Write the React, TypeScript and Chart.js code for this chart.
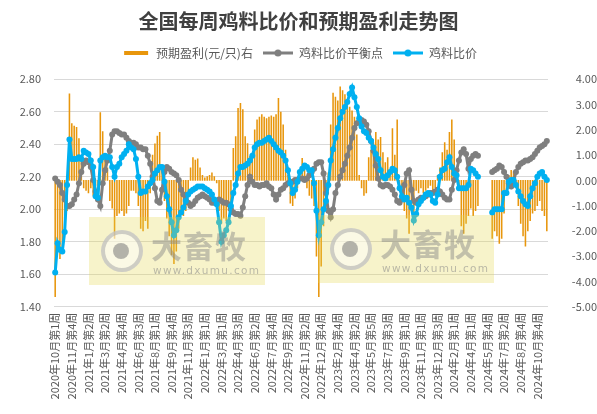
import React, { useEffect, useRef } from 'react';
import { Chart, registerables } from 'chart.js';

Chart.register(...registerables);

const TITLE = '全国每周鸡料比价和预期盈利走势图';
const SERIES_NAMES = ['预期盈利(元/只)右', '鸡料比价平衡点', '鸡料比价'];
const COLORS = ['#E8960C', '#7F7F7F', '#00B0F0'];
const TICK_EVERY = 7;

const TICK_LABELS = [
  '2020年10月第1周', '2020年11月第4周', '2021年1月第2周', '2021年3月第2周', '2021年4月第4周',
  '2021年6月第3周', '2021年8月第1周', '2021年9月第4周', '2021年11月第3周', '2022年1月第1周',
  '2022年3月第1周', '2022年4月第3周', '2022年6月第2周', '2022年7月第4周', '2022年9月第2周',
  '2022年11月第2周', '2022年12月第4周', '2023年2月第4周', '2023年4月第2周', '2023年5月第5周',
  '2023年7月第3周', '2023年9月第1周', '2023年11月第1周', '2023年12月第3周', '2024年2月第1周',
  '2024年4月第1周', '2024年5月第4周', '2024年7月第2周', '2024年8月第4周', '2024年10月第4周',
];

// 预期盈利(元/只) — right axis
const PROFIT = [
  -4.6, -2.6, -3.1, -2.8, -1.5, -1.2, 3.42, 2.25, 2.15, 2.1,
  1.65, 0.9, -0.3, -0.4, -0.5, -0.3, -0.6, -0.2, -0.3, 2.68,
  1.93, 1.0, 0.5, -0.8, -1.1, -2.3, -1.4, -1.3, -1.2, -1.4,
  -1.3, -1.0, -0.4, -0.4, -0.5, -1.0, -1.9, -2.0, -1.6, -1.9,
  -0.5, 1.0, 1.45, 1.75, 1.9, 0.4, -0.8, -1.5, -2.2, -2.95,
  -3.3, -2.8, -1.9, -1.3, -1.4, -1.2, -0.5, 0.5, 0.9, 0.8,
  0.85, 0.5, 0.2, 0.1, 0.15, 0.2, 0.3, 0.15, -0.1, -1.2,
  -1.7, -1.5, -1.6, -1.2, -0.9, 1.27, 1.73, 2.85, 3.05, 2.8,
  1.73, 1.46, 0.95, 0.9, 2.0, 2.4, 2.5, 2.6, 2.5, 2.45,
  2.5, 2.55, 2.5, 2.6, 3.25, 2.7, 2.2, 1.2, 0.2, -0.9,
  -1.0, -0.7, -0.3, 0.3, 0.87, 0.4, -0.3, -0.6, -0.7, -1.0,
  -3.0, -4.6, -3.4, -1.8, -1.2, 0.3, 2.2, 3.45, 3.3, 3.15,
  3.7, 3.55, 3.4, 3.1, 2.9, 2.75, 2.5, 1.8, 0.2, -0.3,
  -0.6, -0.5, 0.9, 1.2, 1.5, 1.9, 1.6, 1.7, 1.1, 0.7,
  0.9, 0.4, 2.05, 1.0, 2.4, -0.3, -0.8, -1.2, -1.5, -2.1,
  -1.2, -1.3, -0.4, -0.5, -0.3, -0.5, -0.4, -0.3, -0.2, -0.4,
  -0.3, 0.2, 0.5, 1.1, 1.5, 1.2, 1.9, 2.4, 1.6, 0.3,
  -0.2, -1.8, -2.1, -1.7, -1.4, -1.1, -1.4, -1.2, -1.0, null,
  null, null, null, null, -2.3, -2.0, -2.2, -2.5, -2.3, -1.3,
  -0.6, 0.2, 0.4, 0.35, -0.3, -1.0, -1.7, -2.2, -2.6, -2.0,
  -1.6, -1.3, -1.2, -1.0, -0.8, -1.2, -1.4, -2.0,
];

// 鸡料比价平衡点 — left axis
const BALANCE = [
  2.19, 2.17, 2.15, 2.10, 2.06, 2.02, 2.02, 2.03, 2.06, 2.09,
  2.16, 2.23, 2.28, 2.30, 2.29, 2.26, 2.18, 2.11, 2.06, 2.02,
  2.16, 2.24, 2.30, 2.36, 2.46, 2.48, 2.48, 2.47, 2.46, 2.46,
  2.44, 2.42, 2.41, 2.41, 2.40, 2.38, 2.38, 2.37, 2.37, 2.33,
  2.28, 2.20, 2.13, 2.05, 2.04, 2.12, 2.23, 2.26, 2.25, 2.23,
  2.22, 2.21, 2.18, 2.12, 2.09, 2.06, 2.04, 2.02, 2.03, 2.05,
  2.07, 2.08, 2.09, 2.08, 2.07, 2.06, 2.04, 2.04, 2.05, 2.06,
  2.05, 2.04, 2.04, 2.03, 2.00, 1.98, 1.97, 1.97, 1.96, 2.01,
  2.08, 2.15, 2.20, 2.17, 2.15, 2.15, 2.14, 2.15, 2.15, 2.16,
  2.14, 2.13, 2.09, 2.06, 2.09, 2.12, 2.13, 2.15, 2.16, 2.17,
  2.17, 2.18, 2.18, 2.19, 2.19, 2.18, 2.19, 2.21, 2.23, 2.25,
  2.28, 2.29, 2.29, 2.22, 2.10, 1.99, 1.95, 2.00, 2.10, 2.15,
  2.20, 2.24, 2.28, 2.33, 2.38, 2.44, 2.50, 2.53, 2.54, 2.55,
  2.54, 2.52, 2.48, 2.42, 2.36, 2.27, 2.19, 2.15, 2.14, 2.15,
  2.15, 2.14, 2.12, 2.09, 2.05, 2.04, 2.06, 2.15, 2.22, 2.24,
  2.12, 2.05, 2.04, 2.06, 2.07, 2.07, 2.08, 2.09, 2.10, 2.10,
  2.11, 2.12, 2.11, 2.09, 2.07, 2.06, 2.06, 2.12, 2.18, 2.24,
  2.30, 2.35, 2.37, 2.34, 2.25, 2.31, 2.33, 2.34, 2.33, null,
  null, null, null, null, 2.23, 2.24, 2.25, 2.27, 2.26, 2.23,
  2.20, 2.16, 2.14, 2.17, 2.23, 2.26, 2.28, 2.29, 2.30, 2.30,
  2.31, 2.32, 2.34, 2.36, 2.38, 2.39, 2.40, 2.42,
];

// 鸡料比价 — left axis
const RATIO = [
  1.61, 1.79, 1.75, 1.74, 1.86, 2.15, 2.43, 2.31, 2.31, 2.31,
  2.32, 2.31, 2.36, 2.35, 2.34, 2.30, 2.26, 2.08, 2.07, 2.30,
  2.32, 2.33, 2.32, 2.32, 2.26, 2.20, 2.26, 2.28, 2.32, 2.34,
  2.36, 2.40, 2.38, 2.37, 2.31, 2.20, 2.10, 2.11, 2.11, 2.14,
  2.16, 2.18, 2.22, 2.24, 2.26, 2.26, 2.17, 2.08, 2.00, 1.92,
  1.84, 1.87, 1.95, 1.98, 2.01, 2.05, 2.09, 2.11, 2.12, 2.13,
  2.14, 2.14, 2.14, 2.13, 2.12, 2.11, 2.09, 2.06, 2.03, 1.92,
  1.80, 1.84, 1.87, 1.92, 2.02, 2.10, 2.15, 2.22, 2.26, 2.26,
  2.27, 2.28, 2.30, 2.33, 2.38, 2.40, 2.41, 2.41, 2.42, 2.43,
  2.44, 2.42, 2.40, 2.38, 2.36, 2.35, 2.33, 2.30, 2.24, 2.16,
  2.10, 2.12, 2.17, 2.23, 2.25, 2.27, 2.26, 2.24, 2.24, 2.16,
  1.99, 1.84, 1.92, 2.00, 2.05, 2.15, 2.30, 2.37, 2.44, 2.50,
  2.56, 2.60, 2.63, 2.66, 2.71, 2.75, 2.69, 2.63, 2.56, 2.51,
  2.48, 2.47, 2.44, 2.42, 2.38, 2.34, 2.31, 2.24, 2.20, 2.19,
  2.21, 2.23, 2.25, 2.24, 2.20, 2.13, 2.08, 2.06, 2.07, 2.04,
  2.01, 1.93, 1.97, 2.03, 2.05, 2.07, 2.09, 2.10, 2.09, 2.05,
  2.04, 2.09, 2.20, 2.24, 2.25, 2.29, 2.32, 2.26, 2.22, 2.21,
  2.13, 2.13, 2.13, 2.13, 2.15, 2.25, 2.24, 2.22, 2.20, null,
  null, null, null, null, 1.98, 2.00, 2.00, 2.00, 2.00, 2.10,
  2.10, 2.17, 2.18, 2.18, 2.15, 2.11, 2.08, 2.05, 2.03, 2.02,
  2.08, 2.13, 2.16, 2.20, 2.22, 2.23, 2.20, 2.18,
];

const FONT = '"Noto Sans CJK SC", "Noto Sans", sans-serif';
const TEXT = '#595959';

function makeSwatch(kind: 'bar' | 'line', color: string) {
  const c = document.createElement('canvas');
  c.width = 30;
  c.height = 10;
  const g = c.getContext('2d')!;
  if (kind === 'bar') {
    g.fillStyle = color;
    g.fillRect(4, 3, 24, 4);
  } else {
    g.strokeStyle = color;
    g.lineWidth = 3;
    g.beginPath();
    g.moveTo(0, 5);
    g.lineTo(30, 5);
    g.stroke();
    g.fillStyle = color;
    g.beginPath();
    g.arc(15, 5, 3.5, 0, Math.PI * 2);
    g.fill();
  }
  return c;
}

function Watermark({ left, top }: { left: number; top: number }) {
  return (
    <div
      style={{
        position: 'absolute', left, top, width: 176, height: 68,
        background: 'rgba(230,215,80,0.3)', pointerEvents: 'none',
      }}
    >
      <div
        style={{
          position: 'absolute', left: 12, top: 13, width: 34, height: 34, borderRadius: '50%',
          border: '4px solid rgba(170,170,170,0.55)', background: 'rgba(255,255,255,0.5)',
        }}
      >
        <div
          style={{
            position: 'absolute', left: 8, top: 9, width: 16, height: 16, borderRadius: '50%',
            background: 'rgba(120,120,120,0.55)',
          }}
        />
      </div>
      <div
        style={{
          position: 'absolute', left: 62, top: 10, fontSize: 31, fontWeight: 700, lineHeight: '36px',
          color: 'rgba(135,135,135,0.48)', fontFamily: FONT, letterSpacing: 1, whiteSpace: 'nowrap',
        }}
      >
        大畜牧
      </div>
      <div
        style={{
          position: 'absolute', left: 64, top: 47, fontSize: 10.5, lineHeight: '12px',
          color: 'rgba(135,135,135,0.55)', fontFamily: '"DejaVu Sans", sans-serif', letterSpacing: 1.3,
          whiteSpace: 'nowrap',
        }}
      >
        www.dxumu.com
      </div>
    </div>
  );
}

export default function App() {
  const ref = useRef<HTMLCanvasElement>(null);

  useEffect(() => {
    const labels = RATIO.map((_, i) => (i % TICK_EVERY === 0 ? TICK_LABELS[i / TICK_EVERY] ?? '' : ''));
    const swatches = [
      makeSwatch('bar', COLORS[0]),
      makeSwatch('line', COLORS[1]),
      makeSwatch('line', COLORS[2]),
    ];
    const chart = new Chart(ref.current!, {
      data: {
        labels,
        datasets: [
          {
            type: 'bar',
            label: SERIES_NAMES[0],
            data: PROFIT,
            yAxisID: 'y1',
            backgroundColor: COLORS[0],
            barThickness: 0.9,
            order: 3,
          },
          {
            type: 'line',
            label: SERIES_NAMES[1],
            data: BALANCE,
            yAxisID: 'y',
            borderColor: COLORS[1],
            backgroundColor: COLORS[1],
            borderWidth: 3,
            pointRadius: 3,
            pointBorderWidth: 0,
            pointBackgroundColor: COLORS[1],
            spanGaps: false,
            tension: 0,
            order: 2,
          },
          {
            type: 'line',
            label: SERIES_NAMES[2],
            data: RATIO,
            yAxisID: 'y',
            borderColor: COLORS[2],
            backgroundColor: COLORS[2],
            borderWidth: 3,
            pointRadius: 3,
            pointBorderWidth: 0,
            pointBackgroundColor: COLORS[2],
            spanGaps: false,
            tension: 0,
            order: 1,
          },
        ],
      } as any,
      options: {
        animation: false,
        responsive: true,
        maintainAspectRatio: false,
        events: [],
        layout: { padding: 0 },
        plugins: {
          title: {
            display: true,
            text: TITLE,
            color: '#404040',
            font: { family: FONT, size: 20, weight: 'bold', lineHeight: 1.2 },
            padding: { top: 9, bottom: 4 },
          },
          subtitle: {
            display: true,
            text: ' ',
            weight: 500,
            font: { size: 10, lineHeight: 1 },
            padding: { top: 0, bottom: 0.3 },
          } as any,
          legend: {
            display: true,
            position: 'top',
            labels: {
              usePointStyle: true,
              pointStyleWidth: 30,
              padding: 10,
              color: TEXT,
              font: { family: FONT, size: 12 },
              generateLabels: (c: any) =>
                c.data.datasets.map((ds: any, i: number) => ({
                  text: ds.label,
                  pointStyle: swatches[i],
                  fillStyle: 'rgba(0,0,0,0)',
                  strokeStyle: 'rgba(0,0,0,0)',
                  lineWidth: 0,
                  hidden: false,
                  datasetIndex: i,
                  fontColor: TEXT,
                })),
            },
          },
          tooltip: { enabled: false },
        },
        scales: {
          x: {
            type: 'category',
            offset: true,
            grid: { display: false, drawTicks: false },
            border: { display: false },
            ticks: {
              autoSkip: false,
              minRotation: 90,
              maxRotation: 90,
              padding: 6,
              color: TEXT,
              font: { family: FONT, size: 11 },
              callback: (_v: any, i: number) => labels[i],
            },
            afterFit: (s: any) => {
              s.height = 107.3;
            },
          },
          y: {
            type: 'linear',
            position: 'left',
            min: 1.4,
            max: 2.8,
            grid: { color: '#D9D9D9', lineWidth: 1, drawTicks: false },
            border: { display: false },
            ticks: {
              stepSize: 0.2,
              padding: 13,
              color: TEXT,
              font: { family: FONT, size: 11 },
              callback: (v: any) => Number(v).toFixed(2),
            },
            afterFit: (s: any) => {
              s.width = 54;
            },
          },
          y1: {
            type: 'linear',
            position: 'right',
            min: -5,
            max: 4,
            grid: { display: false, drawTicks: false },
            border: { display: false },
            ticks: {
              stepSize: 1,
              padding: 12,
              crossAlign: 'far',
              color: TEXT,
              font: { family: FONT, size: 11 },
              callback: (v: any) => Number(v).toFixed(2),
            },
            afterFit: (s: any) => {
              s.width = 49;
            },
          },
        },
      } as any,
    });
    return () => chart.destroy();
  }, []);

  return (
    <div style={{ position: 'fixed', left: 0, top: 0, width: 597, height: 414, background: '#fff' }}>
      <canvas ref={ref} />
      <Watermark left={89} top={217} />
      <Watermark left={318} top={215} />
    </div>
  );
}
